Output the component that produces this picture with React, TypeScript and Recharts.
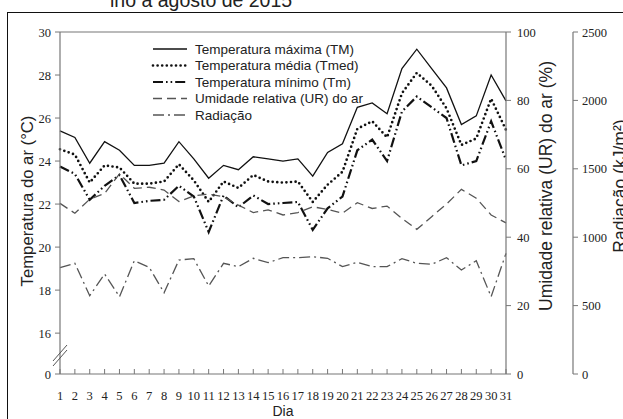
import React from 'react';
import { LineChart, Line, XAxis, YAxis, ReferenceLine, Legend } from 'recharts';

const dias = [1, 2, 3, 4, 5, 6, 7, 8, 9, 10, 11, 12, 13, 14, 15, 16, 17, 18, 19, 20, 21, 22, 23, 24, 25, 26, 27, 28, 29, 30, 31];

// temperaturas (°C)
const tempMaxima = [25.4, 25.1, 23.9, 24.9, 24.5, 23.8, 23.8, 23.9, 24.9, 24.1, 23.2, 23.8, 23.6, 24.2, 24.1, 24.0, 24.1, 23.3, 24.4, 24.8, 26.5, 26.7, 26.2, 28.3, 29.2, 28.3, 27.4, 25.7, 26.1, 28.0, 26.8];
const tempMedia = [24.55, 24.3, 23.0, 23.8, 23.7, 22.95, 22.95, 23.05, 23.85, 23.1, 22.1, 23.05, 22.75, 23.35, 23.05, 23.0, 23.05, 22.1, 22.9, 23.5, 25.5, 25.85, 25.1, 27.15, 28.1, 27.5, 26.45, 24.75, 25.05, 26.9, 25.45];
const tempMinima = [23.75, 23.4, 22.2, 22.85, 23.35, 22.05, 22.15, 22.2, 22.85, 22.35, 20.7, 22.4, 21.85, 22.4, 22.0, 22.05, 22.1, 20.8, 21.8, 22.35, 24.5, 25.0, 24.0, 26.3, 27.0, 26.5, 26.0, 23.8, 24.0, 25.85, 24.05];

// umidade relativa (%)
const umidade = [49.9, 47.0, 51.1, 52.8, 58.5, 54.3, 54.6, 53.8, 50.4, 52.1, 52.6, 51.8, 49.4, 47.2, 48.0, 46.5, 47.2, 48.9, 48.1, 47.0, 50.1, 48.4, 49.1, 45.5, 42.3, 46.0, 49.7, 54.0, 51.4, 46.5, 44.2];

// radiação (kJ/m2)
const radiacao = [777, 809, 572, 731, 565, 828, 780, 594, 833, 843, 643, 809, 785, 846, 814, 850, 850, 857, 846, 785, 817, 785, 785, 843, 809, 802, 850, 760, 828, 565, 882];

const tempTicks = [14.1, 16, 18, 20, 22, 24, 26, 28, 30];
const urTicks = [0, 20, 40, 60, 80, 100];
const radTicks = [0, 500, 1000, 1500, 2000, 2500];

const data = dias.map((dia, i) => ({
    dia,
    tm: tempMaxima[i],
    tmed: tempMedia[i],
    tmin: tempMinima[i],
    ur: umidade[i],
    rad: radiacao[i],
}));

const series = [
    { key: 'tm', name: 'Temperatura máxima (TM)', axis: 'temp', color: '#111', width: 1.3, dash: undefined, cap: 'butt' },
    { key: 'tmed', name: 'Temperatura média (Tmed)', axis: 'temp', color: '#111', width: 2.7, dash: '0 4.6', cap: 'round' },
    { key: 'tmin', name: 'Temperatura mínimo (Tm)', axis: 'temp', color: '#111', width: 2.2, dash: '10 3 1.6 3 1.6 3', cap: 'butt' },
    { key: 'ur', name: 'Umidade relativa (UR) do ar', axis: 'aUR', color: '#555', width: 1.3, dash: '9 5', cap: 'butt' },
    { key: 'rad', name: 'Radiação', axis: 'bRad', color: '#555', width: 1.3, dash: '11 4 2 4', cap: 'butt' },
];

const serif = "'Liberation Serif', 'DejaVu Serif', serif";
const sans = "'Liberation Sans', Arial, sans-serif";
const eixo = '#777';
const texto = '#222';
const tickFont = { fontFamily: serif, fontSize: 12.5 };

function TempTick({ x, y, payload }: any) {
    const quebra = payload.value < 15;
    const ax = x + 9;
    return (
        <g>
            <text x={x} y={y} dy="0.36em" textAnchor="end" fill={texto} style={tickFont}>
                {quebra ? '0' : payload.value}
            </text>
            {quebra && (
                <g stroke="#555" strokeWidth={1}>
                    <line x1={ax - 7} y1={y - 13} x2={ax + 7} y2={y - 29} />
                    <line x1={ax - 7} y1={y - 8} x2={ax + 7} y2={y - 24} />
                </g>
            )}
        </g>
    );
}

function RightTick({ x, y, payload }: any) {
    return (
        <text x={x} y={y} dy="0.36em" textAnchor="start" fill={texto} style={tickFont}>
            {payload.value}
        </text>
    );
}

function DiaTick({ x, y, payload }: any) {
    return (
        <g>
            <line x1={x} x2={x} y1={y} y2={y - 5} stroke={eixo} />
            <text x={x} y={y + 21} dy="0.36em" textAnchor="middle" fill={texto} style={tickFont}>
                {payload.value}
            </text>
        </g>
    );
}

function TituloV({ viewBox, valor, dx, dy, size }: any) {
    const px = viewBox.x + dx;
    const py = viewBox.y + viewBox.height / 2 + dy;
    return (
        <text x={px} y={py} transform={`rotate(-90 ${px} ${py})`} textAnchor="middle" dominantBaseline="central"
            fill={texto} style={{ fontFamily: sans, fontSize: size }}>
            {valor}
        </text>
    );
}

function TituloX({ viewBox }: any) {
    return (
        <text x={viewBox.x + viewBox.width / 2} y={viewBox.y + 37} textAnchor="middle" dominantBaseline="central"
            fill={texto} style={{ fontFamily: sans, fontSize: 14 }}>
            Dia
        </text>
    );
}

function Legenda() {
    return (
        <svg width={270} height={90}>
            {series.map((s, i) => {
                const y = 11 + i * 16.5;
                return (
                    <g key={s.key}>
                        <line x1={3} x2={37} y1={y} y2={y} stroke={s.color} strokeWidth={s.width}
                            strokeDasharray={s.dash} strokeLinecap={s.cap as any} />
                        <text x={45} y={y} dominantBaseline="central" fill={texto} style={{ fontFamily: sans, fontSize: 13.5 }}>
                            {s.name}
                        </text>
                    </g>
                );
            })}
        </svg>
    );
}

export default function App() {
    return (
        <div style={{ position: 'absolute', left: 0, top: 0, width: 623, height: 419, overflow: 'hidden', background: '#fff' }}>
            <svg style={{ position: 'absolute', left: 0, top: 0 }} width={623} height={30}>
                <text x={110} y={7} fill={texto} style={{ fontFamily: sans, fontSize: 19.5 }}>lho a agosto de 2015</text>
            </svg>
            <div style={{ position: 'absolute', left: 7, top: 12, width: 700, height: 500, borderLeft: '1.5px solid #111', borderTop: '1.5px solid #111' }} />
            <div style={{ position: 'absolute', left: 0, top: 0 }}>
                <LineChart width={623} height={419} data={data} margin={{ top: 32, right: 0, bottom: 0, left: 0 }}>
                    <XAxis dataKey="dia" type="number" domain={[1, 31]} ticks={dias} interval={0} height={45}
                        axisLine={{ stroke: eixo, strokeWidth: 1.2 }} tickLine={false} tickSize={0} tickMargin={0}
                        tick={<DiaTick />} label={<TituloX />} />
                    <YAxis yAxisId="temp" orientation="left" width={60} domain={[14.1, 30]} ticks={tempTicks} interval={0}
                        axisLine={{ stroke: eixo, strokeWidth: 1.2 }} tickLine={{ stroke: eixo }} tickSize={5} tickMargin={4}
                        tick={<TempTick />} label={<TituloV valor="Temperatura do ar (°C)" dx={27} dy={-2} size={16.7} />} />
                    <YAxis yAxisId="bRad" orientation="right" width={50} domain={[0, 2500]} ticks={radTicks} interval={0}
                        axisLine={{ stroke: eixo, strokeWidth: 1.2 }} tickLine={{ stroke: eixo }} tickSize={5} tickMargin={4}
                        tick={<RightTick />} label={<TituloV valor="Radiação (kJ/m²)" dx={47} dy={-17} size={17.5} />} />
                    <YAxis yAxisId="aUR" orientation="right" width={67} domain={[0, 100]} ticks={urTicks} interval={0}
                        axisLine={{ stroke: eixo, strokeWidth: 1.2 }} tickLine={{ stroke: eixo }} tickSize={5} tickMargin={6}
                        tick={<RightTick />} label={<TituloV valor="Umidade relativa (UR) do ar (%)" dx={40} dy={-17} size={17.5} />} />
                    <ReferenceLine yAxisId="temp" y={30} stroke={eixo} strokeWidth={1.2} />
                    <Legend layout="vertical" align="center" verticalAlign="middle" content={<Legenda />}
                        wrapperStyle={{ left: 150, top: 38, width: 270, height: 90 }} />
                    {series.map((s) => (
                        <Line key={s.key} yAxisId={s.axis} dataKey={s.key} name={s.name} type="linear"
                            stroke={s.color} strokeWidth={s.width} strokeDasharray={s.dash} strokeLinecap={s.cap as any}
                            dot={false} activeDot={false} isAnimationActive={false} />
                    ))}
                </LineChart>
            </div>
        </div>
    );
}
